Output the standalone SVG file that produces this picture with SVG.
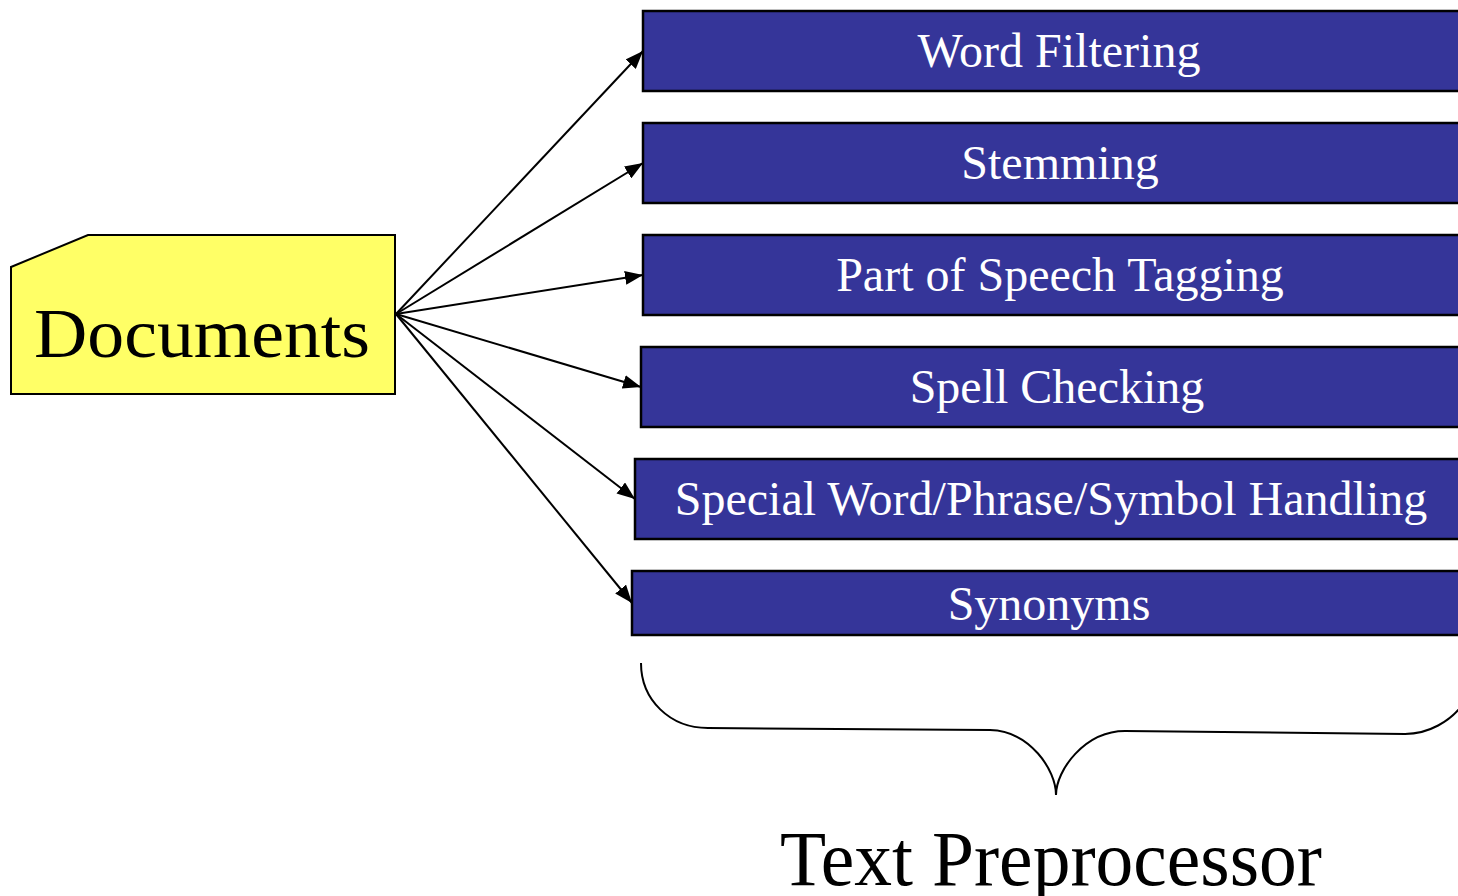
<svg xmlns="http://www.w3.org/2000/svg" width="1458" height="896" viewBox="0 0 1458 896">
<style>
.box{fill:#353599;stroke:#000;stroke-width:2.5}
.lbl{font-family:"Liberation Serif","Times New Roman",serif;font-size:48px;fill:#fff;text-anchor:middle}
.conn{stroke:#000;stroke-width:2;fill:none}
.big{font-family:"Liberation Serif","Times New Roman",serif;fill:#000}
</style>
<defs>
<marker id="ah" markerWidth="18" markerHeight="14" refX="18" refY="7" orient="auto" markerUnits="userSpaceOnUse">
<path d="M0,0 L18,7 L0,14 Z" fill="#000"/>
</marker>
</defs>
<rect width="1458" height="896" fill="#fff"/>
<g id="documents">
<polygon points="11,267 88,235 395,235 395,394 11,394" fill="#ffff66" stroke="#000" stroke-width="2"/>
<text class="big" x="202" y="357" font-size="70" text-anchor="middle" textLength="336" lengthAdjust="spacingAndGlyphs">Documents</text>
</g>
<g id="word-filtering">
<rect class="box" x="643" y="11" width="830" height="80"/>
<text class="lbl" x="1059" y="67">Word Filtering</text>
</g>
<g id="stemming">
<rect class="box" x="643" y="123" width="830" height="80"/>
<text class="lbl" x="1060" y="179">Stemming</text>
</g>
<g id="pos-tagging">
<rect class="box" x="643" y="235" width="830" height="80"/>
<text class="lbl" x="1060" y="291">Part of Speech Tagging</text>
</g>
<g id="spell-checking">
<rect class="box" x="641" y="347" width="830" height="80"/>
<text class="lbl" x="1057" y="403">Spell Checking</text>
</g>
<g id="special-handling">
<rect class="box" x="635" y="459" width="840" height="80"/>
<text class="lbl" x="1051" y="515">Special Word/Phrase/Symbol Handling</text>
</g>
<g id="synonyms">
<rect class="box" x="632" y="571" width="840" height="64"/>
<text class="lbl" x="1049" y="620">Synonyms</text>
</g>
<g id="connectors">
<line class="conn" x1="396" y1="314" x2="643" y2="51" marker-end="url(#ah)"/>
<line class="conn" x1="396" y1="314" x2="643" y2="163" marker-end="url(#ah)"/>
<line class="conn" x1="396" y1="314" x2="643" y2="275" marker-end="url(#ah)"/>
<line class="conn" x1="396" y1="314" x2="641" y2="387" marker-end="url(#ah)"/>
<line class="conn" x1="396" y1="314" x2="635" y2="499" marker-end="url(#ah)"/>
<line class="conn" x1="396" y1="314" x2="632" y2="603" marker-end="url(#ah)"/>
</g>
<g id="text-preprocessor">
<path d="M641,663 C641,700 670,728 708,728 L990,730 C1030,731 1056,770 1056,795 C1056,770 1085,731 1125,731 L1405,734 C1430,734 1450,720 1460,708" fill="none" stroke="#000" stroke-width="2"/>
<text class="big" x="1051" y="885" font-size="78" text-anchor="middle" textLength="542" lengthAdjust="spacingAndGlyphs">Text Preprocessor</text>
</g>
</svg>
